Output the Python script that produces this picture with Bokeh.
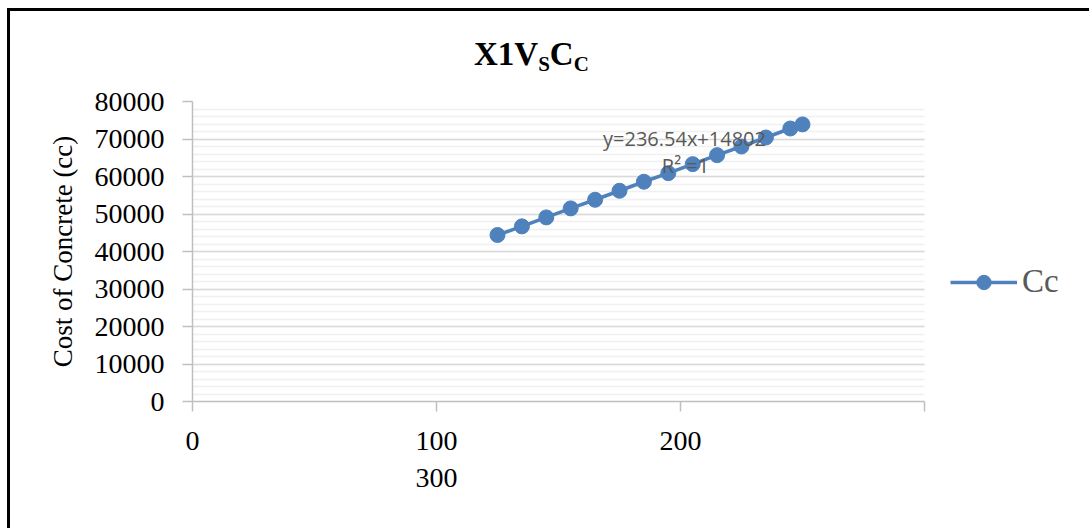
from bokeh.plotting import figure
from bokeh.models import Label, Legend, LegendItem, SingleIntervalTicker, Div, Grid, BoxAnnotation
from bokeh.embed import file_html
from bokeh.resources import INLINE

# ---- data ----
x_vals = [125, 135, 145, 155, 165, 175, 185, 195, 205, 215, 225, 235, 245, 250]
cc_vals = [44400, 46700, 49100, 51500, 53800, 56200, 58600, 60900, 63300,
           65700, 68000, 70400, 72800, 73900]
series_name = "Cc"
x_tick_labels = {0: "0", 100: "100\n300", 200: "200", 300: ""}
y_label = "Cost of Concrete (cc)"
trend_eq = "y=236.54x+14802"
trend_r2 = "R\u00b2 =1"
title_main = ["X1V", "C"]
title_subs = ["S", "C"]

SERIF = "Liberation Serif"
BLUE = "#4f81bd"
XMAX, YMAX = 300, 80000

# reference plot-area box (page pixels); canvas starts at (10, 11) after the border
FX0, FX1, FY0, FY1 = 192, 924, 101, 401
X_RIGHT = (1092 - FX0) / (FX1 - FX0) * XMAX   # frame runs on to the canvas edge

p = figure(width=1082, height=520, x_range=(0, X_RIGHT), y_range=(0, YMAX),
           output_backend="svg", toolbar_location=None,
           min_border_left=182, min_border_right=0,
           min_border_top=90, min_border_bottom=130)
p.title = None
p.styles = {"border-top": "3px solid black", "border-left": "3px solid black",
            "margin-left": "7px", "margin-top": "8px"}
p.outline_line_color = None

def dx(px):
    return (px - FX0) / (FX1 - FX0) * XMAX
def dy(py):
    return (FY1 - py) / (FY1 - FY0) * YMAX

r_line = p.line(x_vals, cc_vals, line_color=BLUE, line_width=3.5)
r_pts = p.scatter(x_vals, cc_vals, size=15, fill_color=BLUE, line_color=BLUE)

p.xaxis.ticker = SingleIntervalTicker(interval=100, num_minor_ticks=0)
p.xaxis.major_label_overrides = x_tick_labels
p.xaxis.bounds = (0, XMAX)
p.yaxis.ticker = SingleIntervalTicker(interval=10000, num_minor_ticks=5)
for ax in (p.xaxis, p.yaxis):
    ax.axis_line_color = "#bfbfbf"
    ax.axis_line_width = 1.5
    ax.major_tick_line_color = "#bfbfbf"
    ax.major_tick_line_width = 1.5
    ax.major_tick_out = 10
    ax.major_tick_in = 0
    ax.minor_tick_out = 0
    ax.minor_tick_in = 0
    ax.major_label_text_font = SERIF
    ax.major_label_text_font_size = "28px"
    ax.major_label_text_color = "black"
p.xaxis.major_label_standoff = 13
p.yaxis.major_label_standoff = 18
p.yaxis.axis_label = y_label
p.yaxis.axis_label_text_font = SERIF
p.yaxis.axis_label_text_font_size = "27px"
p.yaxis.axis_label_text_font_style = "normal"
p.yaxis.axis_label_text_color = "black"
p.yaxis.axis_label_standoff = 14

p.xgrid.visible = False
p.ygrid.grid_line_color = "#d9d9d9"
p.ygrid.grid_line_width = 1.5
p.ygrid.minor_grid_line_color = "#f0f0f0"
p.ygrid.minor_grid_line_width = 1.5
if "cross_bounds" in Grid.properties():
    p.ygrid.cross_bounds = (0, XMAX)
else:
    p.add_layout(BoxAnnotation(left=XMAX + 0.6, fill_color="white", fill_alpha=1,
                               line_color=None, level="underlay"))

p.add_layout(Label(x=dx(684), y=dy(138), text=trend_eq, text_font="Open Sans",
                   text_font_size="20px", text_color="#595959",
                   text_align="center", text_baseline="middle"))
p.add_layout(Label(x=dx(685), y=dy(165), text=trend_r2, text_font="Open Sans",
                   text_font_size="20px", text_color="#595959",
                   text_align="center", text_baseline="middle"))

legend = Legend(items=[LegendItem(label=series_name, renderers=[r_line, r_pts])],
                location=(950 - FX0, FY1 - 300), padding=0, margin=0,
                glyph_width=67, glyph_height=36, label_standoff=5,
                label_text_font=SERIF, label_text_font_size="33px",
                label_text_color="#595959",
                border_line_color=None, background_fill_alpha=0)
p.add_layout(legend, "center")

# chart title with subscripts, laid over the top of the chart
sub = '<span style="font-size:21px;vertical-align:-6px">{}</span>'
title_html = (title_main[0] + sub.format(title_subs[0]) +
              title_main[1] + sub.format(title_subs[1]))
title = Div(text=title_html, width=200, height=40, margin=0,
            styles={"position": "absolute", "left": "474px", "top": "38px",
                    "font-family": SERIF, "font-size": "33px",
                    "font-weight": "bold", "line-height": "33px",
                    "color": "black", "white-space": "nowrap"})

open("out.html", "w").write(file_html([p, title], INLINE))
